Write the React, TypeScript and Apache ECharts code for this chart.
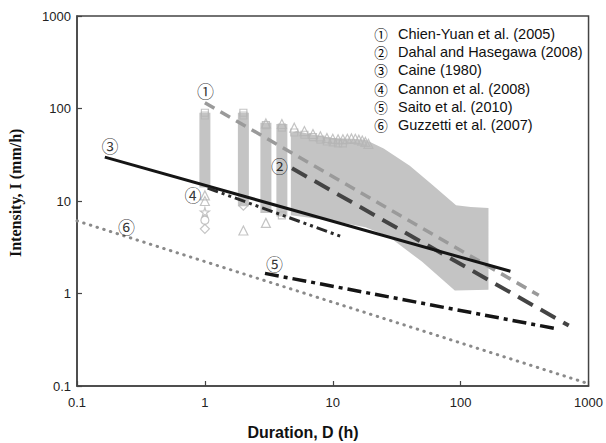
import React, { useEffect, useRef } from "react";
import * as echarts from "echarts";

// ---- data ----
const chienYuan = [[1, 115.5], [408, 0.955]];
const dahal = [[4.8, 22.6], [700, 0.45]];
const caine = [[0.165, 29.8], [245, 1.74]];
const cannon = [[1.05, 13.8], [12.1, 4.05]];
const saito = [[2.95, 1.65], [540, 0.42]];
const guzzetti = [[0.1, 6.1], [1000, 0.106]];

// envelope of the dense rainfall-event cloud (upper edge then lower edge)
const cloudUpper = [[4.7, 54], [5.2, 57], [7, 52], [10, 48], [14, 47], [18, 46], [25, 37], [40, 24], [60, 15], [92, 9], [120, 8.6], [165, 8.4]];
const cloudLower = [[165, 1.1], [90, 1.08], [50, 2.2], [27.5, 4.1], [18, 5.2], [9.4, 6.2], [4.7, 7]];

// dense columns at short durations: [duration, low, high]
const cloudColumns = [[1, 14, 90], [2, 8.8, 90], [3, 7.4, 70], [4, 6.8, 68]];

// hollow outlier markers
const triangles = [[1, 11.5], [1, 10], [2, 4.8], [3, 5.8], [3, 69], [4, 68], [5, 62], [6, 57], [7, 53], [8, 50], [9, 48], [10, 47], [11, 46.5], [12, 46.5], [13, 47], [14, 47.5], [15, 47], [16, 46], [17, 45], [18, 43.5], [19, 41.5]];
const squares = [[1, 90], [1, 84], [2, 90], [2, 84], [3, 66], [4, 62], [4, 7], [5, 55], [6, 52], [7, 49], [8, 46], [9, 44], [10, 43], [11, 42], [12, 42]];
const circles = [[1, 6.2]];
const diamonds = [[1, 5], [2, 8.9]];
const stars = [[1, 7.6]];

const curveTags = ["①", "②", "③", "④", "⑤", "⑥"];
const tagPositions = [[1.01, 155], [3.83, 24.5], [0.181, 40.3], [0.807, 11.9], [3.5, 2.12], [0.244, 5.27]];
const legendNames = [
  "Chien-Yuan et al. (2005)",
  "Dahal and Hasegawa (2008)",
  "Caine (1980)",
  "Cannon et al. (2008)",
  "Saito et al. (2010)",
  "Guzzetti et al. (2007)",
];
const xTicks = [0.1, 1, 10, 100, 1000];
const yTicks = [0.1, 1, 10, 100, 1000];

const CLOUD = "#c4c4c4";
const MARK = "#b5b5b5";
const STAR = "path://M50,0 L61,35 L98,35 L68,57 L79,91 L50,70 L21,91 L32,57 L2,35 L39,35 Z";
const CIRC_FONT = "Noto Sans CJK JP, Noto Sans CJK SC, DejaVu Sans";
const SANS = "Liberation Sans, Arial, sans-serif";

const fmt = (v: number) => String(+Number(v).toPrecision(3));

export default function App() {
  const ref = useRef<HTMLDivElement>(null);
  useEffect(() => {
    if (!ref.current) return;
    const chart = echarts.init(ref.current, null, { renderer: "svg" });
    const polygon = cloudUpper.concat(cloudLower);
    const hollow = (name: string, data: number[][], symbol: string, size = 8) => ({
      type: "scatter",
      name,
      data,
      symbol,
      symbolSize: size,
      z: 2,
      itemStyle: { color: "rgba(255,255,255,0)", borderColor: MARK, borderWidth: 1.2 },
      silent: true,
    });
    const line = (name: string, data: number[][], color: string, width: number, type: any, cap = "butt") => ({
      type: "line",
      name,
      data,
      symbol: "none",
      z: 4,
      lineStyle: { color, width, type, cap },
      silent: true,
    });
    chart.setOption({
      animation: false,
      grid: { left: 77, right: 17, top: 16, bottom: 57, show: true, borderColor: "#444", borderWidth: 1.5, backgroundColor: "transparent" },
      xAxis: {
        type: "log",
        logBase: 10,
        min: xTicks[0],
        max: xTicks[xTicks.length - 1],
        axisLine: { show: true, lineStyle: { color: "#444", width: 1.5 } },
        axisTick: { show: true, inside: true, length: 5, lineStyle: { color: "#444", width: 1.2 } },
        minorTick: { show: false },
        splitLine: { show: false },
        axisLabel: { formatter: fmt, color: "#222", fontSize: 13, fontFamily: SANS, margin: 10 },
      },
      yAxis: {
        type: "log",
        logBase: 10,
        min: yTicks[0],
        max: yTicks[yTicks.length - 1],
        axisLine: { show: true, lineStyle: { color: "#444", width: 1.5 } },
        axisTick: { show: true, inside: true, length: 5, lineStyle: { color: "#444", width: 1.2 } },
        splitLine: { show: false },
        axisLabel: { formatter: fmt, color: "#222", fontSize: 13, fontFamily: SANS, margin: 6 },
      },
      series: [
        {
          type: "custom",
          name: "cloud",
          data: polygon,
          z: 1,
          silent: true,
          renderItem: (params: any, api: any) => {
            if (params.dataIndex !== 0) return null;
            const pts = polygon.map((p) => api.coord(p));
            return { type: "polygon", shape: { points: pts }, style: { fill: CLOUD } };
          },
        },
        {
          type: "custom",
          name: "columns",
          data: cloudColumns,
          encode: { x: 0, y: [1, 2] },
          z: 1,
          silent: true,
          renderItem: (params: any, api: any) => {
            const d = api.value(0);
            const top = api.coord([d, api.value(2)]);
            const bot = api.coord([d, api.value(1)]);
            return {
              type: "rect",
              shape: { x: top[0] - 5.5, y: top[1], width: 11, height: bot[1] - top[1] },
              style: { fill: CLOUD },
            };
          },
        },
        hollow("tri", triangles, "triangle", 9),
        hollow("sq", squares, "rect", 7),
        hollow("circ", circles, "circle", 8),
        hollow("dia", diamonds, "diamond", 9),
        hollow("star", stars, STAR, 9),
        line("Chien-Yuan", chienYuan, "#9a9a9a", 3.5, [11, 7]),
        line("Dahal", dahal, "#444444", 4, [17, 9]),
        line("Caine", caine, "#151515", 3, "solid"),
        line("Cannon", cannon, "#2a2a2a", 3, [11, 4, 3, 4, 3, 4]),
        line("Saito", saito, "#151515", 3.5, [14, 5, 4, 5]),
        line("Guzzetti", guzzetti, "#8a8a8a", 3, [0.5, 6.5], "round"),
        {
          type: "scatter",
          name: "tags",
          data: tagPositions.map((p, i) => ({ value: p, name: curveTags[i] })),
          symbolSize: 0,
          z: 6,
          silent: true,
          label: {
            show: true,
            position: "inside",
            formatter: (p: any) => p.name,
            color: "#000",
            fontSize: 17,
            fontFamily: CIRC_FONT,
          },
        },
      ],
      graphic: [
        ...legendNames.flatMap((n, i) => {
          const y = 34 + i * 18.2;
          return [
            { type: "text", x: 381, y, style: { text: curveTags[i], fontSize: 13.5, fontFamily: CIRC_FONT, fill: "#000", align: "center", verticalAlign: "middle" }, z: 10 },
            { type: "text", x: 398, y, style: { text: n, fontSize: 14.5, fontFamily: SANS, fill: "#111", align: "left", verticalAlign: "middle" }, z: 10 },
          ];
        }),
        {
          type: "text",
          left: "center",
          top: 424,
          style: { text: "Duration, D (h)", fontSize: 16, fontWeight: "bold", fontFamily: SANS, fill: "#111" },
        },
        {
          type: "text",
          x: 7,
          y: 257,
          rotation: Math.PI / 2,
          style: { text: "Intensity, I (mm/h)", fontSize: 16, fontWeight: "bold", fontFamily: "Liberation Serif, Times New Roman, serif", fill: "#111" },
        },
      ],
    });
    return () => chart.dispose();
  }, []);
  return <div ref={ref} style={{ position: "fixed", left: 0, top: 0, width: 606, height: 443, background: "#fff" }} />;
}
